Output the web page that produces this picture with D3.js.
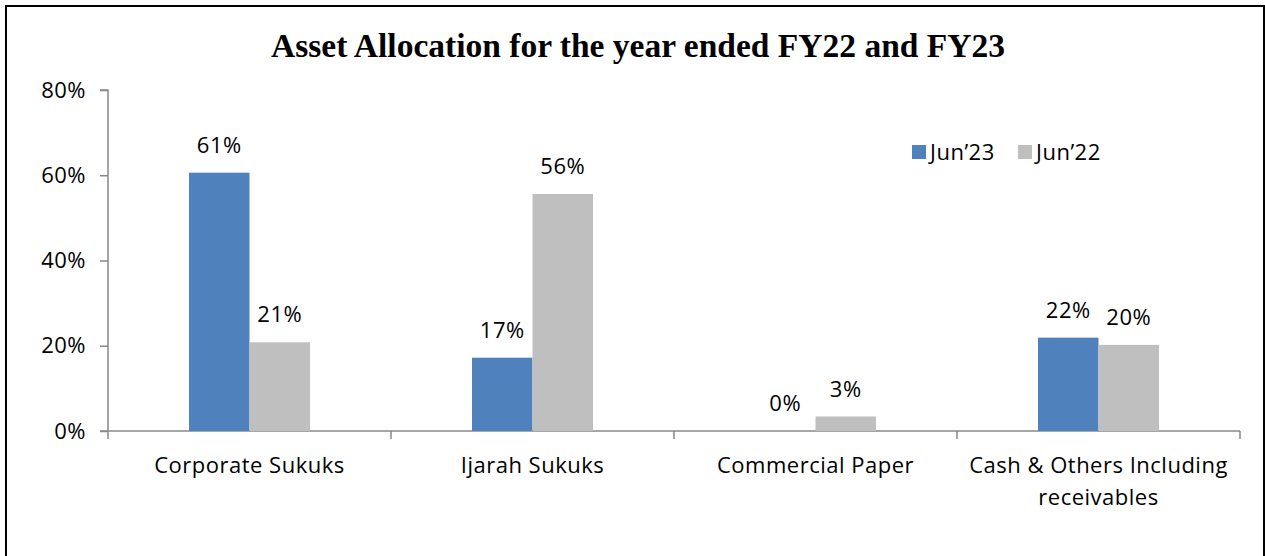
<!DOCTYPE html>
<html>
<head>
<meta charset="utf-8">
<script src="https://cdn.jsdelivr.net/npm/d3@7"></script>
<style>
  body { margin: 0; background: #fff; }
  text { font-family: "Open Sans", Lato, sans-serif; }
</style>
</head>
<body>
<div id="graph"></div>
<script>
// data
const categories = ["Corporate Sukuks", "Ijarah Sukuks", "Commercial Paper", "Cash & Others Including|receivables"];
const seriesNames = ["Jun’23", "Jun’22"];
const jun23 = [60.6, 17.2, 0, 21.9];
const jun22 = [20.8, 55.6, 3.4, 20.2];
const jun23Labels = ["61%", "17%", "0%", "22%"];
const jun22Labels = ["21%", "56%", "3%", "20%"];
const yTicks = [0, 20, 40, 60, 80];

const colors = ["#4F81BD", "#BFBFBF"];

var W = 1265, H = 556;
var margin = {top: 90, right: 25, bottom: 125, left: 108};
var fs = "22px", ls = "0.5px";

const svg = d3.select("#graph")
  .append("svg")
    .attr("width", W)
    .attr("height", H);

// outer frame
svg.append("rect")
  .attr("x", 6).attr("y", 6)
  .attr("width", 1258).attr("height", 560)
  .attr("fill", "none")
  .attr("stroke", "#000")
  .attr("stroke-width", 2);

// title
svg.append("text")
  .attr("x", 638)
  .attr("y", 57)
  .attr("text-anchor", "middle")
  .style("font-family", "'Liberation Serif', serif")
  .style("font-weight", "bold")
  .style("font-size", "33.5px")
  .text("Asset Allocation for the year ended FY22 and FY23");

const g = svg.append("g")
  .attr("transform", "translate(" + margin.left + "," + margin.top + ")");

var width = 1240 - margin.left, height = 431 - margin.top;

var x = d3.scaleBand()
  .domain(categories)
  .range([0, width])
  .padding(0);

var x1 = d3.scaleBand()
  .domain(seriesNames)
  .range([x.bandwidth() / 2 - 60.5, x.bandwidth() / 2 + 60.5]);

var y = d3.scaleLinear()
  .domain([0, 80])
  .range([height, 0]);

// y axis
const yAxis = g.append("g")
  .call(d3.axisLeft(y).tickValues(yTicks).tickSize(8).tickPadding(14)
    .tickFormat(d => d + "%"));
yAxis.select(".domain").attr("stroke", "#888").attr("stroke-width", 1.5)
  .attr("d", "M0," + height + "V0H-8");
yAxis.selectAll(".tick line").attr("stroke", "#888").attr("stroke-width", 1.5);
yAxis.selectAll(".tick text")
  .style("font-size", fs).style("letter-spacing", ls).attr("fill", "#000");

// x axis (category boundaries)
const xAxis = g.append("g")
  .attr("transform", "translate(0," + height + ")");
xAxis.append("line")
  .attr("x1", -8).attr("x2", width)
  .attr("stroke", "#888").attr("stroke-width", 1.5);
xAxis.selectAll("line.tk")
  .data(categories.concat(["end"]))
  .enter().append("line")
    .attr("class", "tk")
    .attr("x1", (d, i) => i * x.bandwidth())
    .attr("x2", (d, i) => i * x.bandwidth())
    .attr("y1", 0).attr("y2", 8)
    .attr("stroke", "#888").attr("stroke-width", 1.5);

// category labels
const catLabels = xAxis.selectAll("text.cat")
  .data(categories)
  .enter().append("text")
    .attr("class", "cat")
    .attr("text-anchor", "middle")
    .attr("transform", d => "translate(" + (x(d) + x.bandwidth() / 2) + ",42)")
    .style("font-size", fs).style("letter-spacing", ls);
catLabels.each(function(d) {
  const parts = d.split("|");
  d3.select(this).selectAll("tspan")
    .data(parts)
    .enter().append("tspan")
      .attr("x", 0)
      .attr("dy", (p, i) => i === 0 ? 0 : 32)
      .text(p => p);
});

// bars
const rows = categories.map((c, i) => ({
  cat: c,
  vals: [
    {key: seriesNames[0], v: jun23[i], label: jun23Labels[i], color: colors[0]},
    {key: seriesNames[1], v: jun22[i], label: jun22Labels[i], color: colors[1]}
  ]
}));

const groups = g.selectAll("g.cg")
  .data(rows)
  .enter().append("g")
    .attr("class", "cg")
    .attr("transform", d => "translate(" + x(d.cat) + ",0)");

groups.selectAll("rect")
  .data(d => d.vals)
  .enter().append("rect")
    .attr("x", d => x1(d.key))
    .attr("width", x1.bandwidth())
    .attr("y", d => y(d.v))
    .attr("height", d => y(0) - y(d.v))
    .attr("fill", d => d.color);

groups.selectAll("text.val")
  .data(d => d.vals)
  .enter().append("text")
    .attr("class", "val")
    .attr("text-anchor", "middle")
    .attr("x", d => x1(d.key) + x1.bandwidth() / 2)
    .attr("y", d => y(d.v) - 20)
    .style("font-size", fs).style("letter-spacing", ls)
    .text(d => d.label);

// legend
const legend = svg.append("g")
  .attr("transform", "translate(912,145)");
const li = legend.selectAll("g")
  .data(seriesNames)
  .enter().append("g")
    .attr("transform", (d, i) => "translate(" + (i * 106) + ",0)");
li.append("rect")
  .attr("width", 14).attr("height", 14)
  .attr("fill", (d, i) => colors[i]);
li.append("text")
  .attr("x", 18).attr("y", 15)
  .style("font-size", fs).style("letter-spacing", ls)
  .text(d => d);
</script>
</body>
</html>
